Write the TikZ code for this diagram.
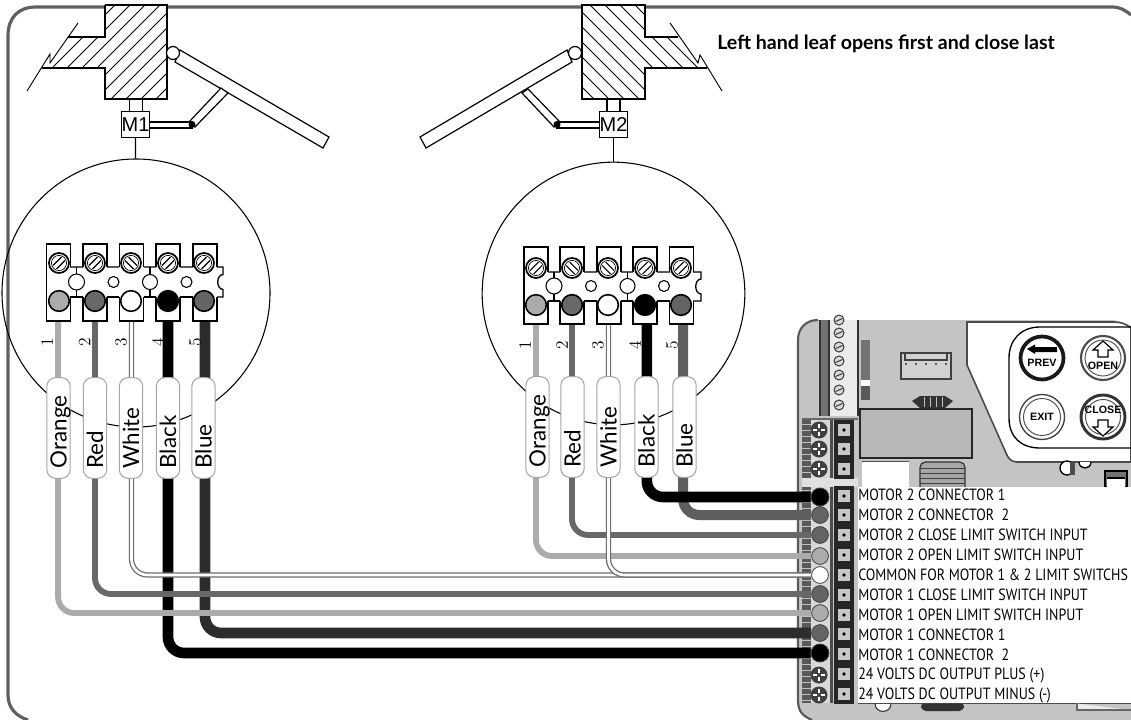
\documentclass[tikz,border=0pt]{standalone}
\usepackage{fontspec}
\setmainfont{Lato}
\newfontfamily\rowfont[FakeStretch=0.858]{PT Sans}
\newfontfamily\arialfont{Liberation Sans}
\newfontfamily\numfont{Latin Modern Roman}
\pgfdeclarelayer{under}
\pgfdeclarelayer{wirelayer}
\pgfsetlayers{under,wirelayer,main}
\definecolor{boardgray}{HTML}{C4C4C4}
\definecolor{framegray}{HTML}{606060}
\definecolor{wireorange}{HTML}{ABABAB}
\definecolor{wirered}{HTML}{686868}
\definecolor{wirewhite}{HTML}{6E6E6E}
\definecolor{wireblueA}{HTML}{2C2C2C}
\definecolor{wireblueB}{HTML}{5E5E5E}
\definecolor{dotgray}{HTML}{646464}
\tikzset{
  ink/.style={draw=black,line width=0.9pt},
  thinink/.style={draw=black,line width=0.7pt},
  wirebase/.style={rounded corners=12pt,line cap=butt},
  wireO/.style={wirebase,draw=wireorange,line width=4.4pt},
  wireR/.style={wirebase,draw=wirered,line width=4.4pt},
  wireW/.style={wirebase,draw=wirewhite,double=white,line width=1pt,double distance=2pt},
  wireK/.style={wirebase,draw=black,line width=8pt},
  wireBA/.style={wirebase,draw=wireblueA,line width=8pt},
  wireBB/.style={wirebase,draw=wireblueB,line width=7.5pt},
  motorbox/.style={draw=black,line width=0.9pt,fill=white,minimum width=19pt,minimum height=19pt,inner sep=0pt,font=\arialfont\fontsize{15pt}{16pt}\selectfont},
  disc/.style={circle,draw=black,line width=0.8pt,inner sep=0pt},
  post/.style={draw=black,line width=1pt,fill=white,minimum width=17.8pt,minimum height=57.5pt,inner sep=0pt},
  tag/.style={rotate=90,draw=black!35,line width=0.8pt,fill=white,rounded corners=6.5pt,minimum height=17.5pt,text width=60.5pt,inner xsep=7.5pt,inner ysep=0pt,align=left,text height=12pt,text depth=0pt,font=\fontsize{16.8pt}{17pt}\selectfont},
  num/.style={rotate=90,inner sep=0pt,font=\numfont\fontsize{13pt}{14pt}\selectfont},
  lead/.style={circle,draw=black!75,line width=0.6pt,inner sep=0pt,minimum size=12.8pt},
  rowtext/.style={anchor=west,inner sep=0pt,font=\rowfont\fontsize{12.2pt}{13pt}\selectfont},
  keytext/.style={inner sep=0pt,font=\arialfont\bfseries\fontsize{8pt}{9pt}\selectfont},
  inlead/.style={circle,draw=black,line width=1.2pt,inner sep=0pt,minimum size=15.5pt},
}
\newcommand{\screwhead}[3]{%
  \draw[draw=black,line width=1.3pt,fill=white] (#1,#2) circle[radius=10];
  \draw[draw=black,line width=0.5pt] (#1,#2) circle[radius=7.6];
  \draw[draw=black,line width=0.8pt] ({#1-#3*6},{#2+2.5}) -- ({#1+#3*2.5},{#2-6});
  \draw[draw=black,line width=0.8pt] ({#1-#3*2.5},{#2+6}) -- ({#1+#3*6},{#2-2.5});
}
\newcommand{\smallhole}[3]{\draw[draw=black,line width=0.8pt,fill=white] (#1,#2) circle[radius=#3];}
\newcommand{\crossscrew}[2]{%
  \fill[black!75] (#1,#2) circle[radius=8.5];
  \draw[white,line width=1.1pt] ({#1-6},#2) -- ({#1+6},#2) ({#1},{#2-6}) -- ({#1},{#2+6});
  \fill[black!75] (#1,#2) circle[radius=2];
}
\newcommand{\tinyscrew}[2]{%
  \draw[black!80,fill=black!15,line width=0.7pt] (#1,#2) circle[radius=5];
  \draw[black!80,line width=0.7pt] ({#1-3.5},{#2+1.5}) -- ({#1+3.5},{#2-1.5});
}
\newcommand{\squareterm}[2]{%
  \fill[black!85] (834,{#2-9.7}) rectangle (854,{#2+9.7});
  \fill[black!22] (838,{#2-6}) rectangle (850,{#2+6});
  \fill[black] (844,#2) circle[radius=1.8];
}
\begin{document}
\begin{tikzpicture}[x=0.75pt,y=-0.75pt]
\useasboundingbox (0,0) rectangle (1131,720);

\begin{pgfonlayer}{under}
% frame
\draw[framegray,line width=2.4pt] (1131,15) .. controls (1125,10) and (1120,7) .. (1112,7) -- (36,7) .. controls (18,7) and (8,18) .. (8,36) -- (8,695) .. controls (8,708) and (16,716) .. (28,720);

% left wall
\fill[white] (105,5) -- (167,5) -- (167,99) -- (105,99) -- (105,68) -- (42,68) -- (50,54) -- (50,63) -- (68,37) -- (105,37) -- cycle;
\begin{scope}
  \clip (105,5) -- (167,5) -- (167,99) -- (105,99) -- (105,68) -- (42,68) -- (50,54) -- (50,63) -- (68,37) -- (105,37) -- cycle;
  \foreach \c in {60,75,...,285} \draw[black,line width=0.7pt] (\c,0) -- (0,\c);
\end{scope}
\draw[ink] (105,5) -- (167,5) -- (167,99) -- (105,99) -- (105,68) -- (42,68);
\draw[ink] (68,37) -- (105,37) -- (105,5);
\draw[thinink] (78,23) -- (50,63) -- (50,54) -- (27,91);
% right wall
\fill[white] (582,5) -- (645,5) -- (645,37) -- (678,37) -- (698,63) -- (700,55) -- (707,68) -- (645,68) -- (645,99) -- (582,99) -- cycle;
\begin{scope}
  \clip (582,5) -- (645,5) -- (645,37) -- (678,37) -- (698,63) -- (700,55) -- (707,68) -- (645,68) -- (645,99) -- (582,99) -- cycle;
  \foreach \c in {480,495,...,705} \draw[black,line width=0.7pt] (\c,0) -- ({\c+120},120);
\end{scope}
\draw[ink] (678,37) -- (645,37) -- (645,5) -- (582,5) -- (582,99) -- (645,99) -- (645,68) -- (707,68);
\draw[thinink] (670,23) -- (698,63) -- (700,55) -- (722,91);

% left leaf
\draw[ink,fill=white] (180,50) -- (329,137) -- (323,148) -- (175,62) -- cycle;
\draw[ink,fill=white] (221,88) -- (228,93) -- (195,127) -- (189,122) -- cycle;
\draw[ink,fill=white] (148,122) -- (192,122) -- (192,128) -- (148,128);
\draw[ink,fill=white] (173,53) circle[radius=6.5];
\fill[black] (192,124.5) circle[radius=3.5];
\draw[ink] (129.5,99) -- (129.5,112) (142.5,99) -- (142.5,112);
% right leaf
\draw[ink,fill=white] (567,50) -- (420,137) -- (426,148) -- (572,62) -- cycle;
\draw[ink,fill=white] (522,93) -- (528,89) -- (560,122) -- (554,127) -- cycle;
\draw[ink,fill=white] (600,122) -- (557,122) -- (557,128) -- (600,128);
\draw[ink,fill=white] (575,53) circle[radius=6.5];
\fill[black] (557,124.5) circle[radius=3.5];
\draw[ink] (607,99) -- (607,112) (620,99) -- (620,112);

% control board
\fill[boardgray] (812,720) .. controls (803,716) and (798,712) .. (798,700) -- (798,340) .. controls (798,328) and (806,320) .. (818,320) -- (1110,320) .. controls (1120,320) and (1128,324) .. (1131,330) -- (1131,720) -- cycle;
\draw[black!65,line width=1.6pt] (812,720) .. controls (803,716) and (798,712) .. (798,700) -- (798,340) .. controls (798,328) and (806,320) .. (818,320);
% upper screw strip
\fill[black!55] (820,320) rectangle (829,416);
\fill[black!8] (829,320) rectangle (858,416);
\draw[black!80,line width=0.8pt] (820,320) -- (820,416) (829,320) -- (829,416) (858,320) -- (858,416);
\foreach \y in {320,333,347,361,375,390,405} {\tinyscrew{839}{\y}}
% resistor part
\fill[black!55] (861,340) rectangle (870,380);
\fill[white] (861,380) rectangle (870,386);
\fill[black!65] (861,386) rectangle (870,400);
% connector
\draw[black!75,line width=1pt,fill=black!18] (901,353) rectangle (951,379);
\draw[black!75,line width=0.8pt] (905,353) -- (905,360) -- (947,360) -- (947,353);
\foreach \x in {906,916,926,936,946} \fill[black!80] (\x,364) circle[radius=1.2];
% coil
\fill[black!80] (912,401) -- (920,396) -- (945,396) -- (953,401) -- (945,408) -- (920,408) -- cycle;
\foreach \x in {924,930,936,942} \draw[black!25,line width=0.6pt] (\x,397) -- (\x,407);
% relay box
\draw[black!85,line width=1pt,fill=black!28] (860,409) rectangle (972,458);
\fill[white] (862,462) rectangle (909,487);
\draw[black!70,line width=0.7pt] (862,461) -- (909,461);
\draw[black!80,line width=0.9pt,fill=black!35,rounded corners=4pt] (920,487) -- (920,462) -- (965,462) -- (965,487);
\foreach \y in {468,473,478,483} \draw[black!75,line width=0.5pt] (920,\y) -- (965,\y);
% key panel
\draw[black!70,line width=1.2pt,fill=white] (967,322) -- (1112,322) .. controls (1120,322) and (1125,323) .. (1131,328) -- (1131,462) -- (1017,462) .. controls (1011,462) and (1008,458) .. (1006,453) -- (967,365) -- cycle;
\draw[black,line width=1pt] (1131,327) -- (1040,327) .. controls (1021,327) and (1009,340) .. (1009,358) -- (1009,418) .. controls (1009,437) and (1021,448) .. (1040,448) -- (1131,448);
% keys
\draw[black!90,line width=2.8pt,fill=white] (1042,358) circle[radius=21.5];
\draw[black!70,line width=1.6pt,fill=white] (1103,358) circle[radius=22];
\draw[black!70,line width=0.7pt] (1103,358) circle[radius=18];
\draw[black!75,line width=1pt,fill=white] (1042,417) circle[radius=22.5];
\draw[black!70,line width=0.7pt] (1042,417) circle[radius=18.5];
\draw[black!80,line width=2.2pt,fill=white] (1103,417) circle[radius=22];
\draw[black!70,line width=0.7pt] (1103,417) circle[radius=17.5];
\fill[black] (1027,349) -- (1035,344.5) -- (1035,347) -- (1057,347) -- (1057,352) -- (1035,352) -- (1035,354) -- cycle;
\draw[black,line width=0.9pt,fill=white] (1103,341) -- (1113,350) -- (1108,350) -- (1108,357) -- (1098,357) -- (1098,350) -- (1093,350) -- cycle;
\draw[black,line width=0.9pt,fill=white] (1103,436) -- (1113,427) -- (1108,427) -- (1108,420) -- (1098,420) -- (1098,427) -- (1093,427) -- cycle;
% small parts under the keys
\draw[black,line width=1pt,fill=white] (1067,468) circle[radius=7];
\fill[black!70] (1070,462) rectangle (1075,475);
\draw[black,line width=1pt,fill=white] (1079,462) .. controls (1079,470) and (1091,470) .. (1091,462);
\draw[black,line width=1pt,fill=black!55] (1105,471) rectangle (1127,487);
\fill[white] (1107,478) rectangle (1125,487);
\draw[black,line width=0.8pt] (1107,478) -- (1125,478);
% lower terminal strip
\fill[black!65] (802,420) rectangle (811,478);
\fill[black!65] (802,487) rectangle (811,703);
\foreach \y in {424,430,...,476,490,496,...,700} \draw[black!25,line width=0.5pt] (802,\y) -- (811,\y);
\fill[black!15] (811,420) rectangle (830,478);
\fill[black!15] (811,487) rectangle (830,703);
\fill[black!70] (830,420) rectangle (833,478);
\fill[black!70] (830,487) rectangle (833,703);
\draw[black!60,line width=0.8pt] (802,419) -- (858,419);
\fill[black!12] (802,478) rectangle (858,487);
\foreach \y in {430,449,469,675,695} {\crossscrew{819}{\y}}
\foreach \y in {430,449,469,496,515,535,555,575,595,615,634,654,674,694} {\squareterm{844}{\y}}
% legend panel
\fill[white] (858,487) rectangle (1131,703);
\draw[black!70,line width=0.7pt] (858,703) -- (1131,703);
% pieces below the legend
\draw[black!80,line width=0.8pt,fill=white] (875,703.5) .. controls (875,714) and (891,714) .. (891,703.5);
\fill[black!80,rounded corners=3pt] (920,703.5) -- (965,703.5) -- (963,711) -- (922,711) -- cycle;
\draw[black!60,line width=0.8pt,fill=black!8] (1077,703.5) -- (1077,710) -- (1131,710);
\end{pgfonlayer}

% motors and circles
\node[motorbox] (m1) at (135.5,124.5) {M1};
\node[motorbox] (m2) at (613.5,124.5) {M2};
\begin{pgfonlayer}{under}
\node[disc,minimum size=201pt] (discA) at (136,293) {};
\node[disc,minimum size=197pt] (discB) at (613.5,293.5) {};
\draw[ink] (m1) -- (discA);
\draw[ink] (m2) -- (discB);
\end{pgfonlayer}

% terminal block 1
\foreach \n/\x in {1/58.5,2/95,3/131.5,4/168,5/205} \node[post] (a\n) at (\x,282.5) {};
\fill[white] (46.5,267) rectangle (223,297);
\draw[black,line width=1pt] (46.5,267) -- (46.5,297);
\draw[black,line width=1pt] (70,267) -- (83,267) (107,267) -- (119,267) (144,267) -- (156,267) (180,267) -- (193,267) (217,267) -- (223,267) -- (223,274.5) .. controls (216,275) and (216,289) .. (223,289.5) -- (223,297) -- (217,297);
\draw[black,line width=1pt] (70,297) -- (83,297) (107,297) -- (119,297) (144,297) -- (156,297) (180,297) -- (193,297);
\draw[black,line width=0.8pt] (76.5,267) -- (76.5,297) (150,267) -- (150,297);
\smallhole{76.5}{282}{8}\smallhole{113.5}{282}{5.5}\smallhole{150}{282}{7.5}\smallhole{186.5}{282}{5.5}
\screwhead{59}{263}{1}\screwhead{95}{263}{1}\screwhead{131}{263}{-1}\screwhead{168}{263}{1}\screwhead{204}{263}{1}
\foreach \n/\x/\c in {1/59/wireorange,2/95/wirered,3/131/white,4/168/black,5/204/dotgray} \node[inlead,fill=\c] (ia\n) at (\x,301) {};

% terminal block 2
\foreach \n/\x in {1/536,2/572,3/609,4/645,5/681.5} \node[post] (b\n) at (\x,285.5) {};
\fill[white] (524,272) rectangle (701,301);
\draw[black,line width=1pt] (524,272) -- (524,301);
\draw[black,line width=1pt] (548,272) -- (560,272) (584,272) -- (597,272) (621,272) -- (633,272) (657,272) -- (670,272) (693,272) -- (701,272) -- (701,279) .. controls (694,279.5) and (694,293.5) .. (701,294) -- (701,301) -- (693,301);
\draw[black,line width=1pt] (548,301) -- (560,301) (584,301) -- (597,301) (621,301) -- (633,301) (657,301) -- (670,301);
\draw[black,line width=0.8pt] (554,272) -- (554,301) (627.5,272) -- (627.5,301);
\smallhole{554}{286}{8}\smallhole{591}{286}{5.5}\smallhole{627.5}{286}{7.5}\smallhole{664}{286}{5.5}
\screwhead{536}{268}{1}\screwhead{572}{268}{-1}\screwhead{608}{268}{-1}\screwhead{645}{268}{1}\screwhead{681}{268}{1}
\foreach \n/\x/\c in {1/536/wireorange,2/572/wirered,3/608/white,4/645/black,5/681/dotgray} \node[inlead,fill=\c] (ib\n) at (\x,305) {};

% board end points of the wires
\foreach \n/\y/\c/\s in {1/497/black/13.5pt,2/515/dotgray/12.6pt,3/535/dotgray/12.6pt,4/556/wireorange/12.6pt,5/575/white/12.6pt,6/594/dotgray/12.6pt,7/613/wireorange/12.6pt,8/633/dotgray/12.6pt,9/653/black/13.5pt}
  \node[lead,fill=\c,minimum size=\s] (r\n) at (820,\y) {};

% wires
\begin{pgfonlayer}{wirelayer}
\draw[wireK] (a4.south) |- (r9);
\draw[wireBA] (a5.south) |- (r8);
\draw[wireW] (a3.south) |- (r5);
\draw[wireR] (a2.south) |- (r6);
\draw[wireO] ([xshift=-0.3pt]a1.south) |- (r7);
\draw[wireR] (b2.south) |- (r3);
\draw[wireO] (b1.south) |- (r4);
\draw[wireW] ([xshift=-0.4pt]b3.south) |- (r5);
\draw[wireBB] ([xshift=1.2pt]b5.south) |- (r2);
\draw[wireK] ([xshift=1.4pt]b4.south) |- (r1);
\end{pgfonlayer}

% wire tags
\foreach \n/\x/\t in {1/58.5/Orange,2/95/Red,3/131/White,4/168/Black,5/203.5/Blue} \node[tag] (ta\n) at (\x,428) {\t};
\foreach \n/\x/\t in {1/537.5/Orange,2/572.5/Red,3/608.5/White,4/646.5/Black,5/684.5/Blue} \node[tag] (tb\n) at (\x,427) {\t};
% numbers
\foreach \n/\x in {1/47,2/84.5,3/121,4/158,5/195} \node[num] (na\n) at (\x,342) {\n};
\foreach \n/\x in {1/525,2/562,3/598,4/635,5/672} \node[num] (nb\n) at (\x,345) {\n};

% title
\node[anchor=west,inner sep=0pt,font=\bfseries\fontsize{14.7pt}{16pt}\selectfont] (title) at (717,44) {Left hand leaf opens first and close last};

% legend
\node[rowtext] (l1) at (858,495) {MOTOR 2 CONNECTOR 1};
\node[rowtext] (l2) at (858,515) {MOTOR 2 CONNECTOR\ \ 2};
\node[rowtext] (l3) at (858,535) {MOTOR 2 CLOSE LIMIT SWITCH INPUT};
\node[rowtext] (l4) at (858,555) {MOTOR 2 OPEN LIMIT SWITCH INPUT};
\node[rowtext] (l5) at (858,575) {COMMON FOR MOTOR 1 \& 2 LIMIT SWITCHS};
\node[rowtext] (l6) at (858,595) {MOTOR 1 CLOSE LIMIT SWITCH INPUT};
\node[rowtext] (l7) at (858,615) {MOTOR 1 OPEN LIMIT SWITCH INPUT};
\node[rowtext] (l8) at (858,635) {MOTOR 1 CONNECTOR 1};
\node[rowtext] (l9) at (858,655) {MOTOR 1 CONNECTOR\ \ 2};
\node[rowtext] (l10) at (858,675) {24 VOLTS DC OUTPUT PLUS (+)};
\node[rowtext] (l11) at (858,695) {24 VOLTS DC OUTPUT MINUS (-)};

% key captions
\node[keytext] (kprev) at (1042,363) {PREV};
\node[keytext] (kopen) at (1103,366) {OPEN};
\node[keytext] (kexit) at (1042,417) {EXIT};
\node[keytext] (kclose) at (1103,410) {CLOSE};
\end{tikzpicture}
\end{document}
